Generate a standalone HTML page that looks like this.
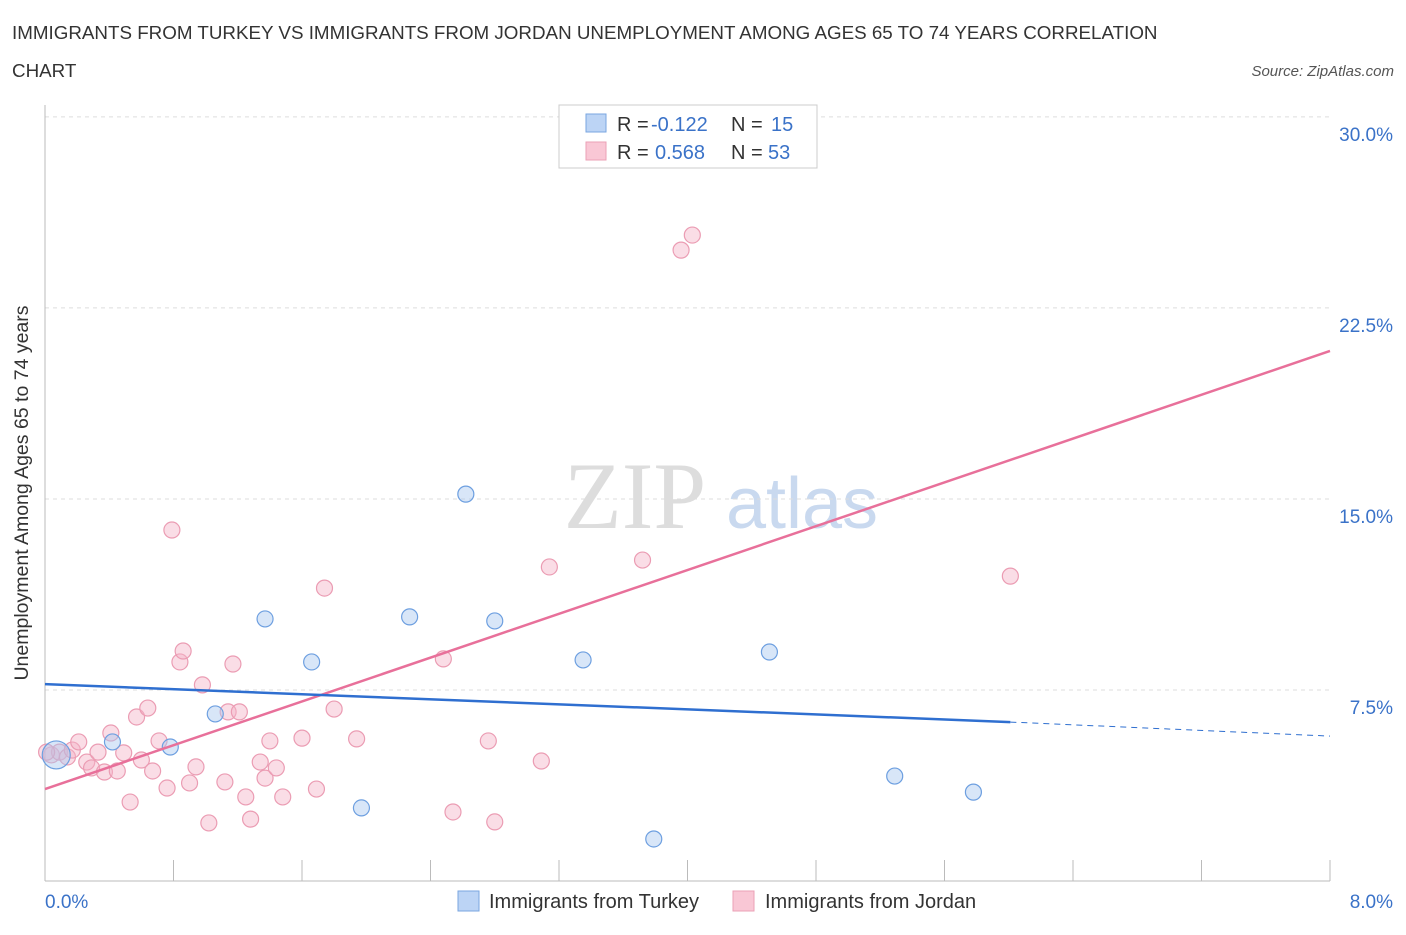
<!DOCTYPE html>
<html><head><meta charset="utf-8"><style>
body{margin:0;background:#fff;font-family:"Liberation Sans",sans-serif;}
</style></head><body>
<svg id="chart" width="1406" height="930" xmlns="http://www.w3.org/2000/svg" style="font-family:'Liberation Sans',sans-serif">
<text x="12" y="39" font-size="18.8" fill="#333">IMMIGRANTS FROM TURKEY VS IMMIGRANTS FROM JORDAN UNEMPLOYMENT AMONG AGES 65 TO 74 YEARS CORRELATION</text>
<text x="12" y="77" font-size="18.8" fill="#333">CHART</text>
<text x="1394" y="76" font-size="15" fill="#555" font-style="italic" text-anchor="end">Source: ZipAtlas.com</text>
<text x="635" y="528" font-size="95" fill="#ddd" font-family="Liberation Serif" text-anchor="middle">ZIP</text>
<text x="802" y="528" font-size="72" fill="#c9d9ef" text-anchor="middle">atlas</text>
<g id="grid"></g>
<g id="marks"></g>
<text x="28" y="493" font-size="19.5" fill="#333" text-anchor="middle" transform="rotate(-90 28 493)">Unemployment Among Ages 65 to 74 years</text>
<g>
<rect x="559" y="105" width="258" height="63" fill="#fff" stroke="#ccc"/>
<rect x="586" y="114" width="20" height="18" fill="#bcd4f5" stroke="#7aa6e0"/>
<rect x="586" y="142" width="20" height="18" fill="#f9c7d5" stroke="#eba0b6"/>
<text x="617" y="131" font-size="20" fill="#333">R =</text>
<text x="651" y="131" font-size="20" fill="#3a72c8">-0.122</text>
<text x="731" y="131" font-size="20" fill="#333">N =</text>
<text x="771" y="131" font-size="20" fill="#3a72c8">15</text>
<text x="617" y="159" font-size="20" fill="#333">R =</text>
<text x="655" y="159" font-size="20" fill="#3a72c8">0.568</text>
<text x="731" y="159" font-size="20" fill="#333">N =</text>
<text x="768" y="159" font-size="20" fill="#3a72c8">53</text>
</g>
<g>
<rect x="458" y="891" width="21" height="20" fill="#bcd4f5" stroke="#7aa6e0"/>
<text x="489" y="908" font-size="20" fill="#333">Immigrants from Turkey</text>
<rect x="733" y="891" width="21" height="20" fill="#f9c7d5" stroke="#eba0b6"/>
<text x="765" y="908" font-size="20" fill="#333">Immigrants from Jordan</text>
</g>
</svg>
<script>
const yTicks=[7.5,15,22.5,30];
const yTickLabels=["7.5%","15.0%","22.5%","30.0%"];
const xTickLabels=["0.0%","8.0%"];
const turkeyX=[0.07,0.42,0.78,1.06,1.37,1.66,1.97,2.27,2.62,2.80,3.35,3.79,4.51,5.29,5.78];
const turkeyY=[4.95,5.46,5.26,6.56,10.29,8.6,2.87,10.37,15.19,10.21,8.68,1.65,8.99,4.12,3.49];
const jordanX=[0.04,0.09,0.14,0.17,0.21,0.26,0.29,0.33,0.37,0.41,0.45,0.49,0.53,0.57,0.60,0.64,0.67,0.71,0.76,0.79,0.84,0.86,0.90,0.94,0.98,1.02,1.12,1.14,1.17,1.21,1.25,1.28,1.34,1.37,1.40,1.44,1.48,1.60,1.69,1.74,1.80,1.94,2.48,2.54,2.76,2.80,3.09,3.14,3.72,3.96,4.03,6.01,0.01];
const jordanY=[4.95,5.06,4.87,5.14,5.46,4.67,4.44,5.06,4.28,5.81,4.32,5.03,3.10,6.44,4.75,6.79,4.32,5.50,3.65,13.78,8.60,9.03,3.85,4.48,7.70,2.28,3.89,6.64,8.52,6.64,3.30,2.43,4.67,4.04,5.50,4.44,3.30,5.61,3.61,11.50,6.75,5.58,8.72,2.71,5.50,2.32,4.71,12.33,12.60,24.77,25.36,11.97,5.06];
const turkeyTrend=[7.73,6.24,5.69];
const jordanTrend=[3.61,20.81];
const X=v=>45+v*160.625, Y=v=>881-v*25.47;
const NS="http://www.w3.org/2000/svg";
function mk(t,a,p){const e=document.createElementNS(NS,t);for(const k in a)e.setAttribute(k,a[k]);p.appendChild(e);return e;}
const g=document.getElementById('grid'), m=document.getElementById('marks');
yTicks.forEach((t,i)=>{
 const l=mk('line',{x1:45,x2:1330,y1:Y(t),y2:Y(t),stroke:'#ddd','stroke-dasharray':'4,4'},g);
 
 
 const tx=mk('text',{x:1393,y:Y(t)+24,'font-size':19,fill:'#3a72c8','text-anchor':'end'},g);
 tx.textContent=yTickLabels[i];
 
 
});
const ax=mk('line',{x1:45,x2:1330,y1:881,y2:881,stroke:'#bbb'},g);


const ay=mk('line',{x1:45,x2:45,y1:105,y2:881,stroke:'#bbb'},g);


for(let i=0;i<=10;i++){
 const t=mk('line',{x1:X(i*0.8),x2:X(i*0.8),y1:881,y2:860,stroke:'#bbb'},g);
 
 
}
[[0,'start',45],[8,'end',1393]].forEach((d,i)=>{
 const tx=mk('text',{x:d[2],y:908,'font-size':19,fill:'#3a72c8','text-anchor':d[1]},g);
 tx.textContent=xTickLabels[i];
 
 
});
jordanX.forEach((x,i)=>{
 const c=mk('circle',{cx:X(x),cy:Y(jordanY[i]),r:8,fill:'rgba(245,180,200,0.45)',stroke:'#eb9cb3','stroke-width':1.2},m);
 
 
});
turkeyX.forEach((x,i)=>{
 const c=mk('circle',{cx:X(x),cy:Y(turkeyY[i]),r:i==0?14:8,fill:'rgba(169,200,240,0.45)',stroke:'#6d9fe0','stroke-width':1.2},m);
 
 
});
const lj=mk('line',{x1:X(0),y1:Y(jordanTrend[0]),x2:X(8),y2:Y(jordanTrend[1]),stroke:'#e8709a','stroke-width':2.5},m);


const lt=mk('line',{x1:X(0),y1:Y(turkeyTrend[0]),x2:X(6.01),y2:Y(turkeyTrend[1]),stroke:'#2f6fd0','stroke-width':2.5},m);


const ld=mk('line',{x1:X(6.01),y1:Y(turkeyTrend[1]),x2:X(8),y2:Y(turkeyTrend[2]),stroke:'#2f6fd0','stroke-width':1,'stroke-dasharray':'6,5'},m);


</script>
</body></html>
